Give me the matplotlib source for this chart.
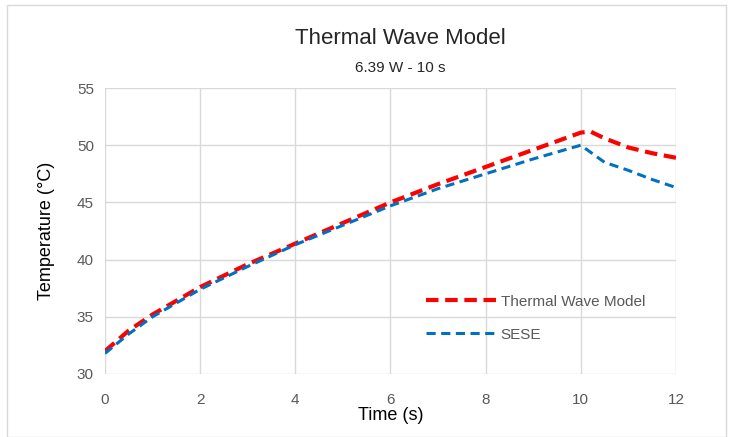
import matplotlib.pyplot as plt
from matplotlib.patches import Rectangle

# data
t_twm = [0, 0.5, 1, 2, 3, 4, 5, 6, 7, 8, 9, 10, 10.2, 10.5, 11, 11.5, 12]
T_twm = [32.0, 33.8, 35.2, 37.6, 39.6, 41.4, 43.2, 45.0, 46.6, 48.1, 49.6, 51.1, 51.2, 50.6, 49.8, 49.3, 48.9]
t_sese = [0, 0.5, 1, 2, 3, 4, 5, 6, 7, 8, 9, 10, 10.5, 11, 11.5, 12]
T_sese = [31.8, 33.5, 35.0, 37.4, 39.4, 41.3, 43.0, 44.7, 46.2, 47.5, 48.8, 50.0, 48.5, 47.8, 47.0, 46.3]
xticks = [0, 2, 4, 6, 8, 10, 12]
yticks = [30, 35, 40, 45, 50, 55]

plt.rcParams['font.family'] = ['Liberation Sans', 'DejaVu Sans']

fig = plt.figure(figsize=(7.3, 4.37), dpi=100)
ax = fig.add_axes([0.1438, 0.1442, 0.926 - 0.1438, 0.7986 - 0.1442])

# outer chart border
fig.patches.append(Rectangle((0.009, 0.0), 0.985, 0.988, transform=fig.transFigure,
                             fill=False, edgecolor='#d9d9d9', lw=1))

ax.plot(t_twm, T_twm, color='#ff0000', lw=3, dashes=(3, 1.6), label='Thermal Wave Model')
ax.plot(t_sese, T_sese, color='#0070c0', lw=2.2, dashes=(3, 1.8), label='SESE')

ax.set_xlim(0, 12)
ax.set_ylim(30, 55)
ax.set_xticks(xticks)
ax.set_yticks(yticks)
ax.grid(True, color='#d9d9d9', lw=1)
ax.set_axisbelow(True)
for s in ax.spines.values():
    s.set_visible(False)
ax.tick_params(length=0, labelsize=11, labelcolor='#595959', pad=14)
ax.tick_params(axis='y', pad=8)

ax.set_xlabel('Time (s)', fontsize=13, labelpad=0)
ax.set_ylabel('Temperature (°C)', fontsize=13, labelpad=16)

fig.text(0.548, 0.912, 'Thermal Wave Model', ha='center', va='center', fontsize=16, color='#262626')
fig.text(0.548, 0.845, '6.39 W - 10 s', ha='center', va='center', fontsize=11, color='#262626')

leg = ax.legend(loc='lower right', bbox_to_anchor=(0.97, 0.065), frameon=False,
                fontsize=11, handlelength=4.8, handletextpad=0.1, labelspacing=1.25)
for txt in leg.get_texts():
    txt.set_color('#595959')

fig.savefig('out.png', dpi=100)
